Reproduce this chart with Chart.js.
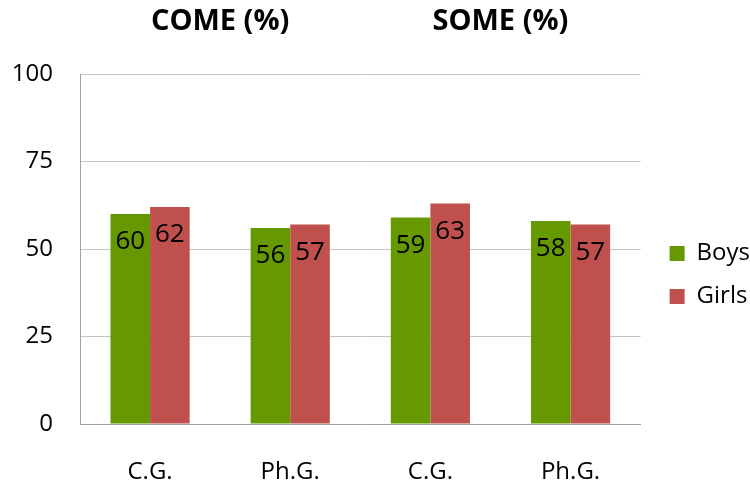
<!DOCTYPE html>
<html>
<head>
<meta charset="utf-8">
<script src="https://cdn.jsdelivr.net/npm/chart.js@4/dist/chart.umd.min.js"></script>
<style>
  html, body { margin: 0; padding: 0; background: #fff; }
  #wrap { width: 750px; height: 486px; }
</style>
</head>
<body>
<div id="wrap"><canvas id="c" width="750" height="486"></canvas></div>
<script>
// Categories along the x axis and the two groups titled above them
const categories = ['C.G.', 'Ph.G.', 'C.G.', 'Ph.G.'];
const groupTitles = ['COME (%)', 'SOME (%)'];
const seriesNames = ['Boys', 'Girls'];
const boys = [60, 56, 59, 58];
const girls = [62, 57, 63, 57];
const yTicks = [0, 25, 50, 75, 100];

const FONT = "'Open Sans', 'Noto Sans', sans-serif";

// Value written inside the top of each bar
const valueLabels = {
  id: 'valueLabels',
  afterDatasetsDraw(chart) {
    const ctx = chart.ctx;
    ctx.save();
    ctx.font = '26px ' + FONT;
    ctx.fillStyle = '#000';
    ctx.textAlign = 'center';
    ctx.textBaseline = 'middle';
    chart.data.datasets.forEach((ds, i) => {
      chart.getDatasetMeta(i).data.forEach((bar, j) => {
        ctx.fillText(String(ds.data[j]), bar.x, bar.y + 28);
      });
    });
    ctx.restore();
  }
};

// Bold headings centred over each pair of categories
const groupHeadings = {
  id: 'groupHeadings',
  afterDraw(chart) {
    const x = chart.scales.x;
    const ctx = chart.ctx;
    ctx.save();
    ctx.font = 'bold 29px ' + FONT;
    ctx.fillStyle = '#000';
    ctx.textAlign = 'center';
    ctx.textBaseline = 'middle';
    groupTitles.forEach((t, g) => {
      const cx = (x.getPixelForTick(g * 2) + x.getPixelForTick(g * 2 + 1)) / 2;
      ctx.fillText(t, cx, 22);
    });
    ctx.restore();
  }
};

// Move the legend a little away from the plot and up
const legendNudge = {
  id: 'legendNudge',
  afterLayout(chart) {
    const lg = chart.legend;
    if (!lg) return;
    lg.left += 10; lg.right += 10;
    lg.top -= 5; lg.bottom -= 5;
  }
};

new Chart(document.getElementById('c'), {
  type: 'bar',
  data: {
    labels: categories,
    datasets: [
      { label: seriesNames[0], data: boys, backgroundColor: '#669900' },
      { label: seriesNames[1], data: girls, backgroundColor: '#C0504D' }
    ]
  },
  options: {
    responsive: false,
    animation: false,
    events: [],
    layout: { padding: { top: 74, left: 0, right: 0, bottom: 0 } },
    datasets: { bar: { barPercentage: 1, categoryPercentage: 0.565 } },
    scales: {
      x: {
        grid: { display: false, drawTicks: false },
        border: { color: '#a0a0a0', width: 1 },
        ticks: { color: '#000', font: { family: FONT, size: 24 }, padding: 34 },
        afterFit(s) { s.height = 62; }
      },
      y: {
        min: 0, max: 100,
        afterBuildTicks(s) { s.ticks = yTicks.map(v => ({ value: v })); },
        grid: { color: '#c4c4c4', drawTicks: false },
        border: { color: '#a0a0a0', width: 1 },
        ticks: { color: '#000', font: { family: FONT, size: 24 }, padding: 27 },
        afterFit(s) { s.width = 80; }
      }
    },
    plugins: {
      legend: {
        position: 'right',
        labels: {
          color: '#000',
          font: { family: FONT, size: 24 },
          boxWidth: 15, boxHeight: 15,
          padding: 19
        }
      },
      tooltip: { enabled: false },
      title: { display: false }
    }
  },
  plugins: [valueLabels, groupHeadings, legendNudge]
});
</script>
</body>
</html>
